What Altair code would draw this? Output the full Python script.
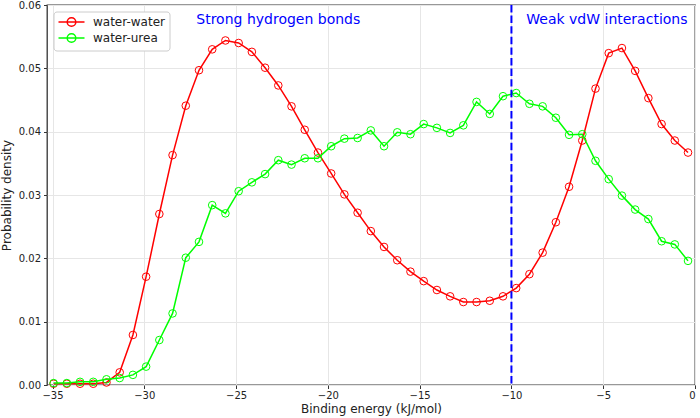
import altair as alt
import pandas as pd

# Histogram bin centres (kJ/mol)
energy = [
    -34.94, -34.22, -33.50, -32.78, -32.06, -31.34, -30.62, -29.90, -29.18, -28.46,
    -27.74, -27.02, -26.30, -25.58, -24.86, -24.14, -23.42, -22.70, -21.98, -21.26,
    -20.54, -19.82, -19.10, -18.38, -17.66, -16.94, -16.22, -15.50, -14.78, -14.06,
    -13.34, -12.62, -11.90, -11.18, -10.46, -9.74, -9.02, -8.30, -7.58, -6.86,
    -6.14, -5.42, -4.70, -3.98, -3.26, -2.54, -1.82, -1.10, -0.38,
]

water_water = [
    0.0002, 0.0002, 0.0002, 0.0002, 0.0004, 0.0020, 0.0079, 0.0171, 0.0270, 0.0363,
    0.0441, 0.0497, 0.0530, 0.0544, 0.0540, 0.0526, 0.0501, 0.0473, 0.0440, 0.0403,
    0.0367, 0.0334, 0.0301, 0.0272, 0.0243, 0.0218, 0.0197, 0.0179, 0.0164, 0.0150,
    0.0140, 0.0131, 0.0131, 0.0133, 0.0140, 0.0153, 0.0175, 0.0209, 0.0257, 0.0313,
    0.0386, 0.0468, 0.0524, 0.0532, 0.0496, 0.0453, 0.0412, 0.0386, 0.0367,
]

water_urea = [
    0.0003, 0.0003, 0.0005, 0.0005, 0.0009, 0.0011, 0.0016, 0.0029, 0.0071, 0.0113,
    0.0201, 0.0226, 0.0284, 0.0271, 0.0306, 0.0320, 0.0333, 0.0355, 0.0348, 0.0358,
    0.0358, 0.0377, 0.0389, 0.0390, 0.0402, 0.0377, 0.0399, 0.0396, 0.0412, 0.0406,
    0.0398, 0.0410, 0.0447, 0.0428, 0.0456, 0.0461, 0.0444, 0.0440, 0.0422, 0.0395,
    0.0396, 0.0354, 0.0325, 0.0299, 0.0277, 0.0262, 0.0227, 0.0222, 0.0196,
]

series_names = ["water-water", "water-urea"]
series_colors = ["#ff0000", "#00ff00"]

x_ticks = [-35, -30, -25, -20, -15, -10, -5, 0]
y_ticks = [0.00, 0.01, 0.02, 0.03, 0.04, 0.05, 0.06]

divider_energy = [-10]
region_labels = ["Strong hydrogen bonds", "Weak vdW interactions"]
region_label_x = [-22.7, -4.8]
region_label_y = [0.0577, 0.0577]

FONT = "DejaVu Sans"
INK = "#222222"
SPINE = "#333333"

df = pd.concat([
    pd.DataFrame({"energy": energy, "density": water_water, "series": series_names[0]}),
    pd.DataFrame({"energy": energy, "density": water_urea, "series": series_names[1]}),
])

x_scale = alt.Scale(domain=[-35.3, 0], nice=False, zero=False)
y_scale = alt.Scale(domain=[0, 0.06], nice=False, zero=False)

x_enc = alt.X("energy:Q", scale=x_scale,
              axis=alt.Axis(values=x_ticks, format="d", title="Binding energy (kJ/mol)",
                            labelPadding=2, titlePadding=3))
y_enc = alt.Y("density:Q", scale=y_scale,
              axis=alt.Axis(values=y_ticks, format=".2f", title="Probability density",
                            labelPadding=3, titlePadding=5))

# Legend symbol: a short line with a hollow circle in the middle.
# The nominal symbol box is 10px (size 100); the path reaches 2.6x past it
# so the drawn stroke is 26px wide without making the rows taller.
legend_symbol = ("M-2.6,0L2.6,0M-0.86,0A0.86,0.86,0,1,1,0.86,0"
                 "A0.86,0.86,0,1,1,-0.86,0")

color_enc = alt.Color(
    "series:N",
    scale=alt.Scale(domain=series_names, range=series_colors),
    legend=alt.Legend(
        title=None, orient="none", legendX=6.5, legendY=6.5,
        symbolType=legend_symbol, symbolSize=100, symbolStrokeWidth=1.5,
        symbolFillColor="transparent", symbolOffset=7.5,
        labelFont=FONT, labelFontSize=12, labelColor=INK, labelOffset=15.5,
        padding=4.5, rowPadding=0, strokeColor="#cccccc", fillColor="white",
        cornerRadius=3,
    ),
)

layers = []
for name in series_names:
    base = alt.Chart(df).transform_filter(alt.datum.series == name).encode(
        x=x_enc, y=y_enc, color=color_enc
    )
    layers.append(base.mark_line(strokeWidth=1.5))
    layers.append(base.mark_point(shape="circle", filled=False, size=58,
                                  strokeWidth=1, opacity=1))

divider = alt.Chart(pd.DataFrame({"energy": divider_energy})).mark_rule(
    color="#0000ff", strokeWidth=2, strokeDash=[7.4, 3.2]
).encode(x=alt.X("energy:Q", scale=x_scale))

labels = alt.Chart(pd.DataFrame({
    "energy": region_label_x, "density": region_label_y, "text": region_labels
})).mark_text(font=FONT, fontSize=14, color="#0000ff", align="center",
              baseline="middle").encode(
    x=alt.X("energy:Q", scale=x_scale),
    y=alt.Y("density:Q", scale=y_scale),
    text="text:N",
)

chart = alt.layer(*layers, divider, labels).properties(
    width=648, height=380,
    padding={"left": 47, "top": 5, "right": 5, "bottom": 33},
    autosize=alt.AutoSizeParams(type="none"),
).configure_view(
    stroke=SPINE, strokeWidth=1.3
).configure_axis(
    domain=False, grid=True, gridColor="#e6e6e6", gridWidth=1,
    tickSize=3.5, tickColor=SPINE, tickWidth=1,
    labelFont=FONT, labelFontSize=10, labelColor=INK,
    titleFont=FONT, titleFontSize=12, titleFontWeight="normal", titleColor=INK,
)

chart.save("out.html", embed_options={"renderer": "svg", "actions": False})
